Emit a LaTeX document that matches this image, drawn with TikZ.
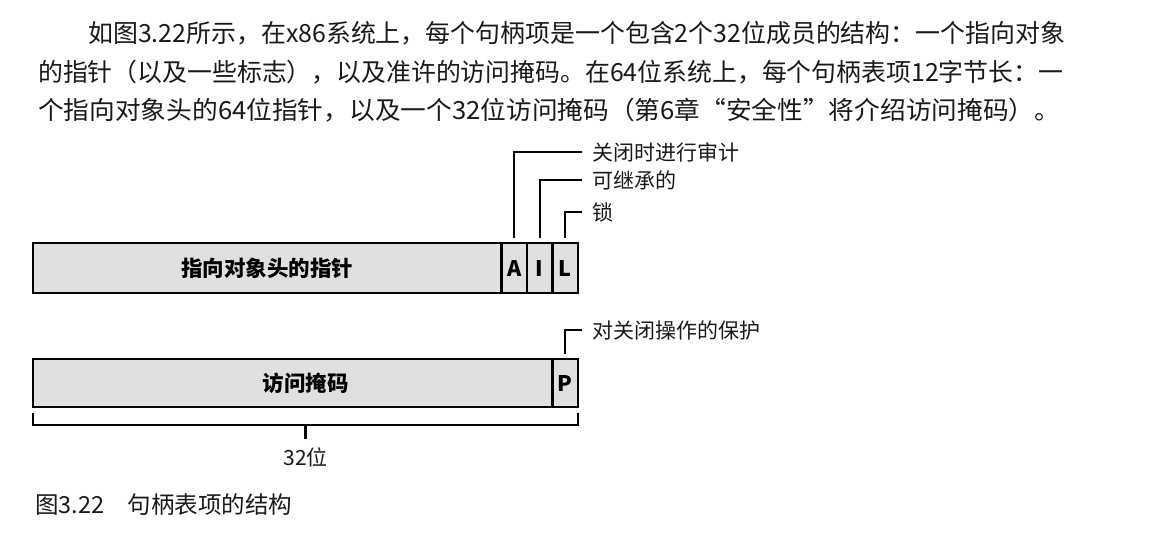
\documentclass[tikz,border=0pt]{standalone}
\usepackage{fontspec}
\setmainfont{Noto Sans CJK SC}
\usetikzlibrary{positioning}

\begin{document}
\begin{tikzpicture}[x=1pt,y=-1pt,node distance=0pt,
  every node/.style={font=\fontsize{21}{25}\selectfont,text=black!90},
  field/.style={draw,line width=2.4pt,fill=black!12,minimum height=50pt,outer sep=0pt,inner sep=0pt,
    font=\fontsize{21.5}{25}\selectfont\bfseries,text=black},
  flag/.style={field,minimum width=25.5pt},
  lead/.style={line width=2.2pt},
  tag/.style={anchor=west,inner xsep=10pt,inner ysep=0pt},
  para/.style={anchor=west,inner sep=0pt,font=\fontsize{25}{29}\selectfont}]
  \useasboundingbox (0,0) rectangle (1174,538);
  \node[para] (line1) at (88,33) {\resizebox{977pt}{\height}{如图3.22所示，在x86系统上，每个句柄项是一个包含2个32位成员的结构：一个指向对象}};
  \node[para] (line2) at (38,72) {\resizebox{1025pt}{\height}{的指针（以及一些标志），以及准许的访问掩码。在64位系统上，每个句柄表项12字节长：一}};
  \node[para] (line3) at (38,110) {\resizebox{1022pt}{\height}{个指向对象头的64位指针，以及一个32位访问掩码（第6章“安全性”将介绍访问掩码）。}};
  \node[field,minimum width=468.5pt,anchor=west] (ptr) at (33,268) {指向对象头的指针};
  \node[flag,right=of ptr] (A) {A};
  \node[flag,right=of A] (I) {I};
  \node[flag,right=of I] (L) {L};
  \node[tag] (audit) at (582,152) {关闭时进行审计};
  \node[tag] (inherit) at (582,180) {可继承的};
  \node[tag] (lock) at (582,212) {锁};
  \draw[lead] ([yshift=5pt]A.north) |- (audit.west);
  \draw[lead] ([yshift=5pt]I.north) |- (inherit.west);
  \draw[lead] ([yshift=5pt]L.north) |- (lock.west);
  \node[field,minimum width=519.5pt,minimum height=48pt,anchor=west] (mask) at (33,383) {\hspace*{26pt}访问掩码};
  \node[flag,minimum height=48pt,right=of mask] (P) {P};
  \node[tag] (protect) at (582,330) {对关闭操作的保护};
  \draw[lead] ([yshift=5pt]P.north) |- (protect.west);
  \draw[lead] ([yshift=-6pt]mask.south west) -- ++(0,12) -| ([yshift=-6pt]P.south east);
  \coordinate (mid) at (305.5,425);
  \node[anchor=north,inner xsep=1pt,inner ysep=9pt] (bits) at (305.5,439) {32位};
  \draw[lead] (mid) -- (bits.north);
  \node[para,font=\fontsize{23.5}{27}\selectfont] (cap) at (35,505) {图3.22\quad 句柄表项的结构};
\end{tikzpicture}
\end{document}
